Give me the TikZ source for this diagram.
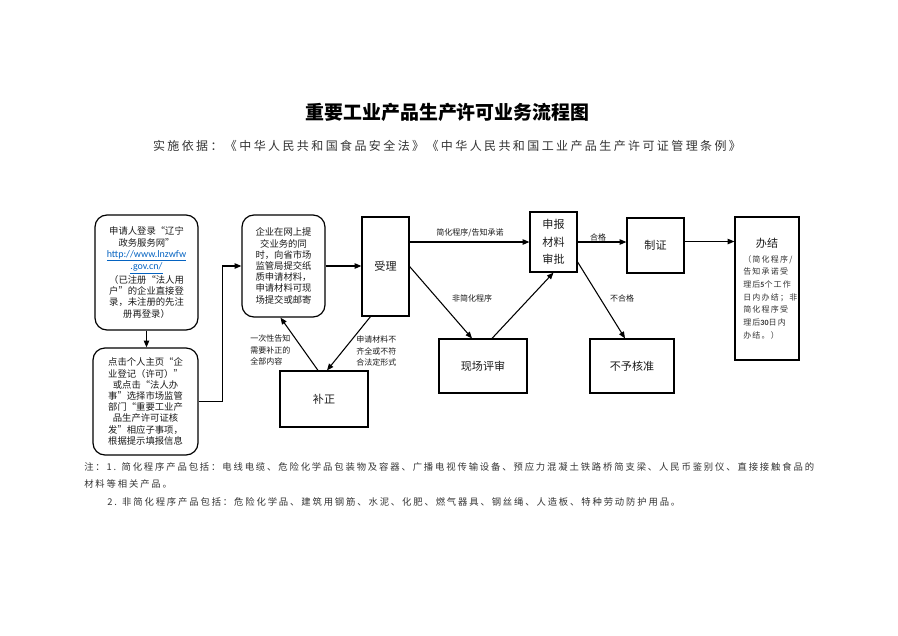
\documentclass[tikz,border=0pt]{standalone}
\usepackage{fontspec}
\setmainfont{Noto Sans CJK SC}
\newfontfamily\lat{Carlito}
\newfontfamily\cjkls[LetterSpace=20]{Noto Sans CJK SC}
\newfontfamily\cjklt[LetterSpace=15]{Noto Sans CJK SC}
\usetikzlibrary{arrows.meta,fit,calc}
\definecolor{linkblue}{HTML}{0563C1}
\definecolor{txt}{HTML}{1A1A1A}
\definecolor{notec}{HTML}{333333}
\begin{document}
\begin{tikzpicture}[x=0.75pt,y=-0.75pt,
  rbox/.style={draw,line width=0.9pt,rounded corners=9pt,inner sep=0pt},
  sbox/.style={draw,line width=0.9pt,inner sep=0pt},
  conn/.style={line width=0.8pt,-{Triangle[length=5pt,width=4pt]}},
  btxt/.style={font=\fontsize{7}{8.4}\selectfont,align=center,text=txt,inner sep=0pt},
  mtxt/.style={font=\fontsize{8.3}{13}\selectfont,align=center,text=txt,inner sep=0pt},
  lbl/.style={font=\fontsize{6}{8.3}\selectfont,align=left,text=txt,inner sep=0pt},
  notetxt/.style={font=\cjkls\fontsize{7}{9}\selectfont,text=notec,inner sep=0pt,anchor=west}
]
\useasboundingbox (0,0) rectangle (898,635);

% title
\node[font=\fontsize{14.2}{17}\selectfont\bfseries,text=black] (title) at (447.5,112) {重要工业产品生产许可业务流程图};
\node[font=\cjkls\fontsize{9}{11}\selectfont,text=notec] (sub) at (447,146) {实施依据：《中华人民共和国食品安全法》《中华人民共和国工业产品生产许可证管理条例》};

% boxes
\node[rbox,fit={(95,215)(198,330)}] (A) {};
\node[btxt] (At) at (A.center) {申请人登录“辽宁\\政务服务网”\\{\lat\fontsize{7.5}{8.4}\selectfont\color{linkblue}\underline{http://www.lnzwfw}}\\{\lat\fontsize{7.5}{8.4}\selectfont\color{linkblue}\underline{.gov.cn/}}\\（已注册“法人用\\户”的企业直接登\\录，未注册的先注\\册再登录）};

\node[rbox,fit={(93,348)(198,455)}] (B) {};
\node[btxt] (Bt) at (B.center) {点击个人主页“企\\业登记（许可）”\\或点击“法人办\\事”选择市场监管\\部门“重要工业产\\品生产许可证核\\发”相应子事项，\\根据提示填报信息};

\node[rbox,fit={(242,215)(325,317)}] (C) {};
\node[btxt] (Ct) at (C.center) {企业在网上提\\交业务的同\\时，向省市场\\监管局提交纸\\质申请材料，\\申请材料可现\\场提交或邮寄};

\node[sbox,fit={(362,217)(409,316)}] (D) {};
\node[mtxt] (Dt) at (D.center) {受理};

\node[sbox,fit={(530,212)(577,272)}] (E) {};
\node[mtxt] (Et) at (E.center) {申报\\材料\\审批};

\node[sbox,fit={(627,218)(684,273)}] (F) {};
\node[mtxt] (Ft) at (F.center) {制证};

\node[sbox,fit={(735,217)(799,360)}] (G) {};
\node[mtxt,anchor=center] (Gt) at (767,243) {办结};
\node[font=\cjklt\fontsize{6}{9.5}\selectfont,text=notec,align=left,inner sep=0pt,anchor=north west] (Gs) at (743,255) {（简化程序/\\告知承诺受\\理后{\lat\bfseries 5}个工作\\日内办结；非\\简化程序受\\理后{\lat\bfseries 30}日内\\办结。）};

\node[sbox,fit={(439,339)(527,393)}] (H) {};
\node[mtxt] (Ht) at (H.center) {现场评审};

\node[sbox,fit={(590,339)(674,393)}] (I) {};
\node[mtxt] (It) at (I.center) {不予核准};

\node[sbox,fit={(280,371)(368,427)}] (J) {};
\node[mtxt] (Jt) at (J.center) {补正};

% connectors
\draw[conn] (A.south) -- (A.south |- B.north);
\draw[conn] (B.east) -- ++(24,0) |- (C.west);
\draw[conn] (C.east) -- (C.east -| D.west);
\draw[conn] (D.east |- E.west) -- (E.west);
\draw[conn] (D.east) -- ($(H.north)+(-11,0)$);
\draw[conn] ($(H.north)+(9,0)$) -- (E.south);
\draw[conn] ($(D.south)+(-15,0)$) -- ($(J.north)+(3,0)$);
\draw[conn] ($(J.north)+(-6,0)$) -- ($(C.south)+(-3,0)$);
\draw[conn] (E.east) -- (E.east -| F.west);
\draw[conn] ($(F.east)+(0,-4)$) -- ($(F.east -| G.west)+(0,-4)$);
\draw[conn] ($(E.east)+(0,20)$) -- ($(I.north)+(-7,0)$);

% labels
\node[lbl] (l1) at (470,233) {简化程序/告知承诺};
\node[lbl] (l2) at (472,298) {非简化程序};
\node[lbl] (l3) at (598,237) {合格};
\node[lbl] (l4) at (622,298) {不合格};
\node[lbl,anchor=north west] (l5) at (250,335) {一次性告知\\需要补正的\\全部内容};
\node[lbl,anchor=north west] (l6) at (356,336) {申请材料不\\齐全或不符\\合法定形式};

% notes
\node[notetxt] (n1) at (84,467) {注：1. 简化程序产品包括：电线电缆、危险化学品包装物及容器、广播电视传输设备、预应力混凝土铁路桥简支梁、人民币鉴别仪、直接接触食品的};
\node[notetxt] (n2) at (84,484) {材料等相关产品。};
\node[notetxt] (n3) at (107,502) {2. 非简化程序产品包括：危险化学品、建筑用钢筋、水泥、化肥、燃气器具、钢丝绳、人造板、特种劳动防护用品。};
\end{tikzpicture}
\end{document}
